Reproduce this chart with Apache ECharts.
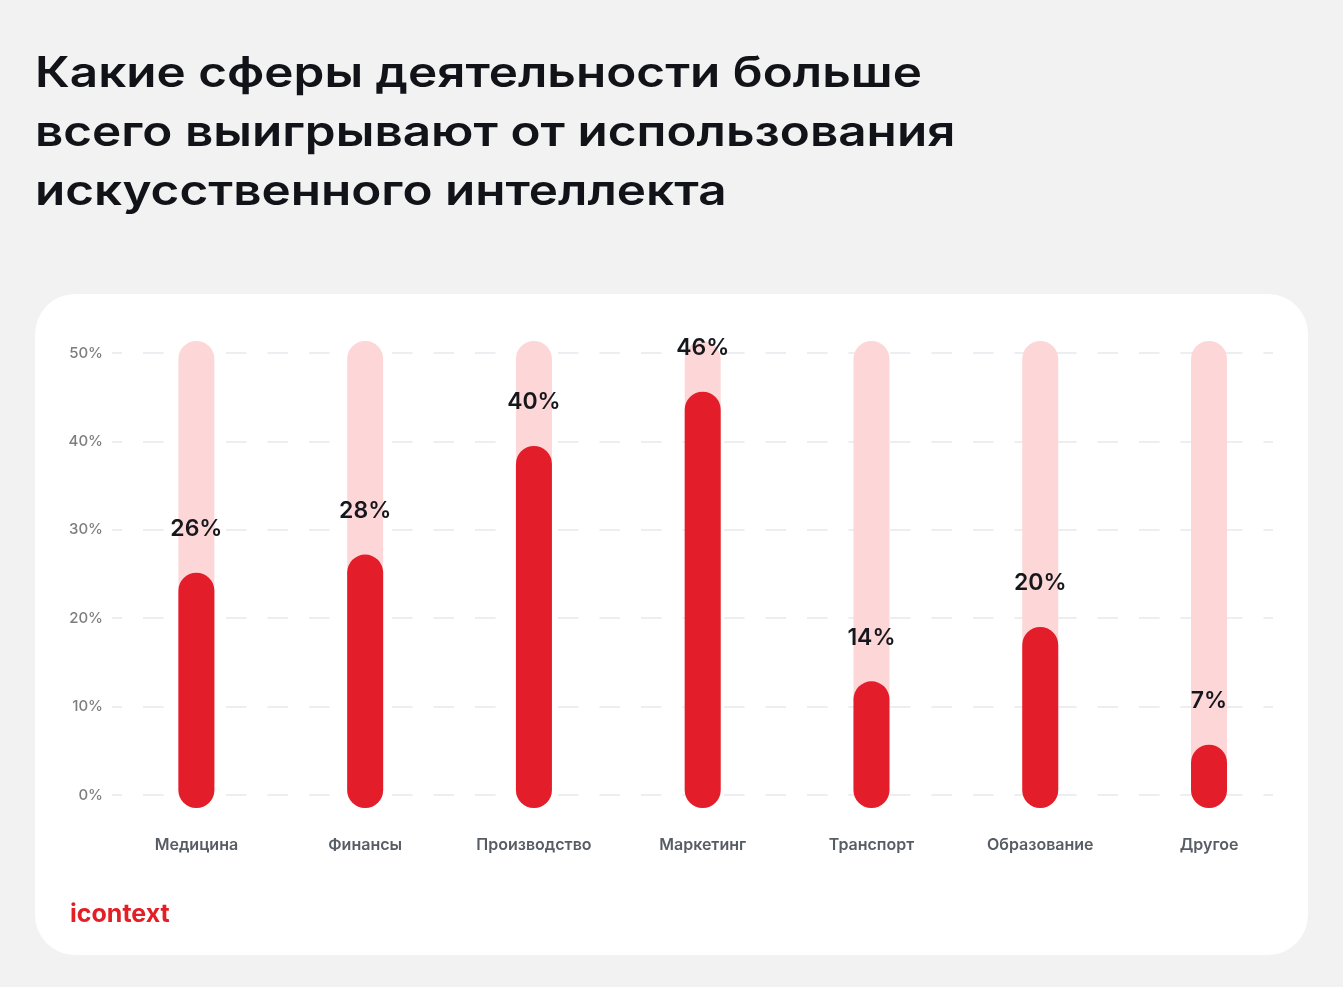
<!DOCTYPE html>
<html><head><meta charset="utf-8">
<script src="https://cdn.jsdelivr.net/npm/echarts@6/dist/echarts.min.js"></script>
<style>html,body{margin:0;padding:0;background:#f2f2f2}#c{width:1343px;height:987px}</style>
</head><body><div id="c"></div>
<script>
const titleLines = ['Какие сферы деятельности больше', 'всего выигрывают от использования', 'искусственного интеллекта'];
const categories = ['Медицина', 'Финансы', 'Производство', 'Маркетинг', 'Транспорт', 'Образование', 'Другое'];
const values = [26, 28, 40, 46, 14, 20, 7];
const tickLabels = ['0%', '10%', '20%', '30%', '40%', '50%'];
const brand = 'icontext';

const FONT = 'Inter, "Noto Sans", sans-serif';
const chart = echarts.init(document.getElementById('c'), null, {renderer: 'canvas'});
chart.setOption({
  backgroundColor: '#f2f2f2',
  animation: false,
  graphic: [
    {type: 'rect', z: -10, shape: {x: 35, y: 294, width: 1273, height: 661, r: 40}, style: {fill: '#ffffff'}},
    {type: 'text', x: 35, y: 45, scaleX: 1.177,
     style: {text: titleLines.join('\n'), fill: '#121318', font: '600 42px ' + FONT, lineHeight: 59}},
    {type: 'text', left: 70, top: 902, style: {text: brand, fill: '#e31e24', font: 'bold 25px ' + FONT}}
  ],
  grid: [
    {left: 112, right: 70, top: 353, bottom: 192},
    {left: 112, right: 49.6, top: 341, bottom: 179}
  ],
  xAxis: [
    {type: 'category', gridIndex: 0, data: categories, show: false},
    {type: 'category', gridIndex: 1, data: categories, axisLine: {show: false}, axisTick: {show: false},
     axisLabel: {margin: 29, color: '#575d65', fontFamily: FONT, fontSize: 16, fontWeight: 600}}
  ],
  yAxis: [
    {type: 'value', gridIndex: 0, min: 0, max: 50, interval: 10,
     axisLine: {show: false}, axisTick: {show: false},
     axisLabel: {margin: 9, color: '#7d7d7d', fontFamily: FONT, fontSize: 15, fontWeight: 500,
       formatter: (v) => tickLabels[Math.round(v / 10)]},
     splitLine: {lineStyle: {color: '#eceef2', width: 2, type: [20.5, 21], dashOffset: 10.5}}},
    {type: 'value', gridIndex: 1, min: 0, max: 51.6, show: false, splitLine: {show: false}}
  ],
  series: [
    {type: 'bar', xAxisIndex: 1, yAxisIndex: 1, data: values, barWidth: 36,
     itemStyle: {color: '#e31e2a', borderRadius: 18},
     showBackground: true, backgroundStyle: {color: '#fdd7d8', borderRadius: 18},
     label: {show: true, position: 'top', distance: 32, formatter: '{c}%',
       color: '#15171c', fontFamily: FONT, fontSize: 23, fontWeight: 600}}
  ]
});
</script></body></html>
